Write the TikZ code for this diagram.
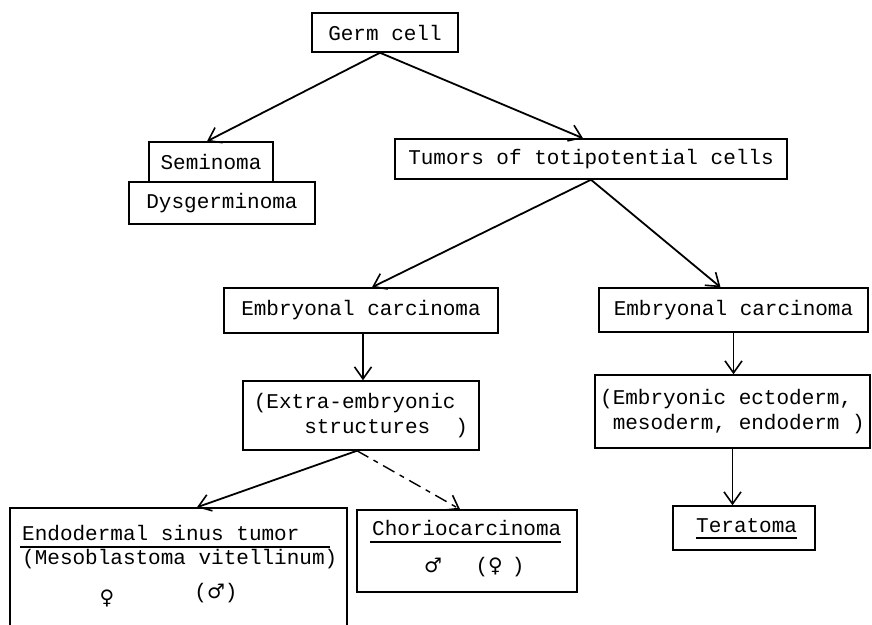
\documentclass[tikz,border=0pt]{standalone}
\usepackage{fontspec}
\setmonofont{Liberation Mono}
\newfontfamily\symfont{DejaVu Sans}
\usetikzlibrary{arrows.meta}
\begin{document}
\begin{tikzpicture}[x=1pt,y=-1pt,
  every node/.style={font=\ttfamily\fontsize{21}{25}\selectfont},
  box/.style={draw, line width=1.5pt, inner sep=0pt, rectangle},
  arr/.style={line width=1.8pt, -{Straight Barb[length=12pt,width=17pt,line width=1.6pt]}},
  dasharr/.style={arr, line width=1.4pt, dash pattern=on 13pt off 6pt on 5pt off 6pt},
  txt/.style={inner sep=0pt, anchor=base west},
  sym/.style={font=\symfont\fontsize{20}{22}\selectfont, inner sep=0pt},
  uline/.style={line width=1.3pt}]
\useasboundingbox (0,0) rectangle (872,624);
% boxes
\node[box, minimum width=146pt, minimum height=39pt] (germ) at (385,32.5) {Germ cell};
\node[box, minimum width=124pt, minimum height=40pt] (sem) at (211,162) {Seminoma};
\node[box, minimum width=186pt, minimum height=42pt] (dys) at (222,203) {Dysgerminoma};
\node[box, minimum width=392pt, minimum height=40pt] (tum) at (591,159) {Tumors of totipotential cells};
\node[box, minimum width=274pt, minimum height=45pt] (ecl) at (361,310.5) {Embryonal carcinoma};
\node[box, minimum width=269pt, minimum height=44pt] (ecr) at (733.5,310) {Embryonal carcinoma};
\node[box, minimum width=236pt, minimum height=69pt, align=left] (extra) at (361,415.5)
  {(Extra-embryonic\\\hphantom{xxxx}structures\hphantom{xx})};
\node[box, minimum width=275pt, minimum height=73pt, align=left] (embr) at (732.5,411.5)
  {(Embryonic ectoderm,\\\hphantom{x}mesoderm, endoderm )};
\node[box, minimum width=142pt, minimum height=44pt] (tera) at (744,528) {};
\node[txt] (teratxt) at (696,532) {Teratoma};
\draw[uline] ([yshift=-6pt]teratxt.base west) -- ([yshift=-6pt]teratxt.base east);
% endodermal sinus tumor (box open at the bottom)
\node[box, minimum width=337pt, minimum height=140pt] (endo) at (178.5,578) {};
\node[txt] (endot1) at (22,540) {Endodermal sinus tumor};
\draw[uline] ([yshift=-7pt,xshift=-2pt]endot1.base west) -- ([yshift=-7pt,xshift=30pt]endot1.base east);
\node[txt] (endot2) at (22,564) {(Mesoblastoma vitellinum)};
\node[sym] (fem1) at (107,598) {♀};
\node[inner sep=0pt] (male1) at (216,593) {({\symfont\fontsize{20}{22}\selectfont ♂})};
% choriocarcinoma
\node[box, minimum width=220pt, minimum height=82pt] (chor) at (467,551) {};
\node[txt] (chort) at (372,535) {Choriocarcinoma};
\draw[uline] ([yshift=-7pt,xshift=-2pt]chort.base west) -- ([yshift=-7pt]chort.base east);
\node[sym] (male2) at (433,565) {♂};
\node[inner sep=0pt] (fem2) at (500,567) {({\symfont\fontsize{20}{22}\selectfont ♀}\hspace{9pt})};
% connectors
\draw[arr] ([xshift=-5pt]germ.south) -- ([xshift=-4pt]sem.north);
\draw[arr] ([xshift=-5pt]germ.south) -- ([xshift=-8pt]tum.north);
\draw[arr] (tum.south) -- ([xshift=11pt]ecl.north);
\draw[arr] (tum.south) -- ([xshift=-13pt]ecr.north);
\draw[arr, line width=1.3pt] ([xshift=2pt]ecl.south) -- ([xshift=2pt]extra.north);
\draw[arr, line width=1.3pt] (ecr.south) -- (ecr.south |- embr.north);
\draw[arr, line width=1.3pt] (embr.south) -- (embr.south |- tera.north);
\draw[arr] ([xshift=-4pt]extra.south) -- ([xshift=18.5pt]endo.north);
\draw[dasharr] ([xshift=-4pt]extra.south) -- ([xshift=-7pt]chor.north);
\end{tikzpicture}
\end{document}
